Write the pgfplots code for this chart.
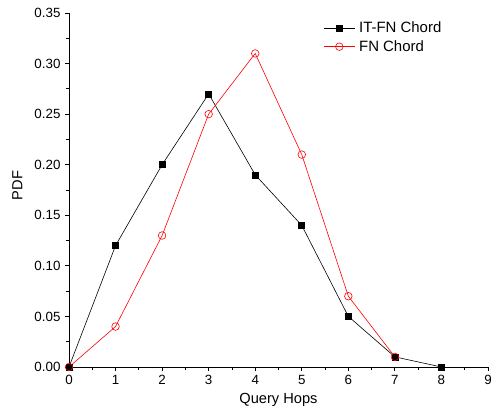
\documentclass[border=0pt]{standalone}
\usepackage{fontspec}
\setmainfont{Liberation Sans}
\usepackage{pgfplots}
\pgfplotsset{compat=1.18}
\begin{document}
\fontsize{13}{15}\selectfont
\begin{tikzpicture}
\useasboundingbox (-69bp,-50bp) rectangle (428bp,367bp);
\begin{axis}[
  at={(0,0)}, anchor=south west,
  scale only axis, width=419bp, height=354bp,
  xmin=0, xmax=9, ymin=0, ymax=0.35,
  axis x line*=bottom, axis y line*=left,
  axis line style={-, line width=0.8bp},
  tick align=outside,
  major tick length=4bp, minor tick length=2.5bp,
  tick style={black, line width=0.8bp},
  minor x tick num=1, minor y tick num=1,
  xtick={0,1,...,9},
  ytick={0,0.05,...,0.35},
  /pgf/number format/assume math mode=true,
  yticklabel style={/pgf/number format/.cd, fixed, fixed zerofill, precision=2},
  ticklabel style={font=\fontsize{13.4}{15}\selectfont},
  xlabel={Query Hops}, ylabel={PDF},
  label style={font=\fontsize{14.7}{16}\selectfont},
  xlabel style={at={(axis description cs:0.5,0)}, anchor=north, yshift=-22bp},
  ylabel style={at={(axis description cs:0,0.513)}, anchor=south, yshift=42bp},
  legend style={draw=none, fill=none, at={(0.607,0.982)}, anchor=north west,
    font=\fontsize{15}{17}\selectfont, row sep=2bp, inner sep=0pt,
    nodes={inner xsep=4bp}},
  legend cell align=left,
  legend image code/.code={\draw[mark repeat=2,mark phase=2] plot coordinates {(0bp,0bp)(15.5bp,0bp)(31bp,0bp)};},
]
\addplot[black, line width=0.6bp, mark=square*, mark size=3bp, mark options={solid}]
  coordinates {(0,0)(1,0.12)(2,0.20)(3,0.27)(4,0.19)(5,0.14)(6,0.05)(7,0.01)(8,0.0)};
\addlegendentry{IT-FN Chord}
\addplot[red, line width=0.6bp, mark=o, mark size=3.8bp, mark options={solid, fill=white}]
  coordinates {(0,0)(1,0.04)(2,0.13)(3,0.25)(4,0.31)(5,0.21)(6,0.07)(7,0.01)};
\addlegendentry{FN Chord}
\end{axis}
\end{tikzpicture}
\end{document}
